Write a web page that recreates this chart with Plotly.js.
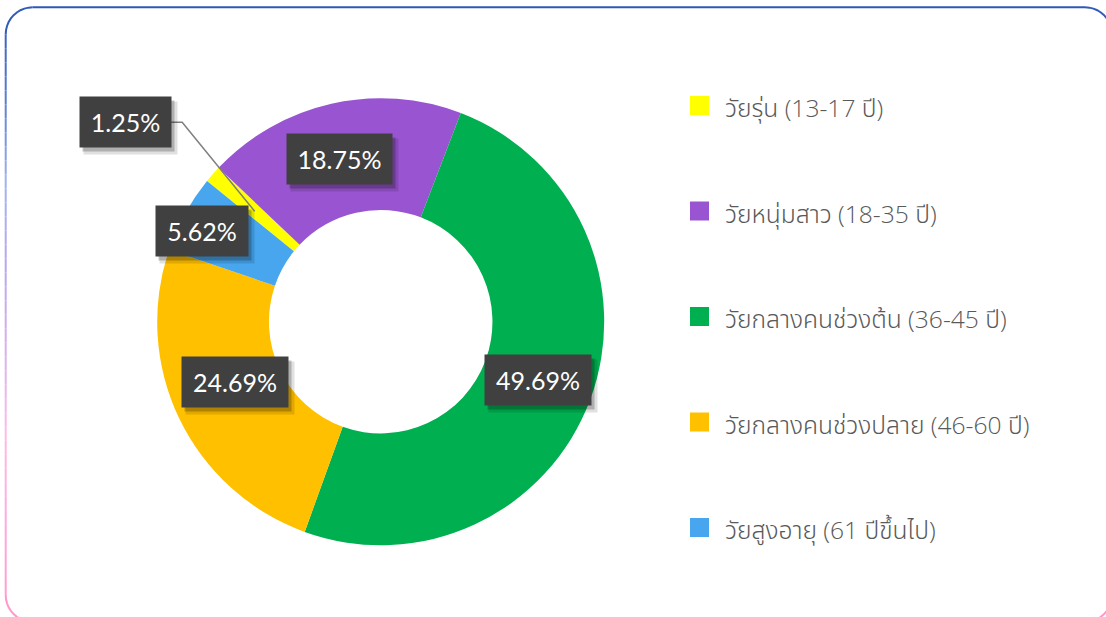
<!DOCTYPE html>
<html>
<head>
<meta charset="utf-8">
<script src="https://cdn.plot.ly/plotly-3.0.1.min.js"></script>
<style>
html,body{margin:0;padding:0;background:#fff;}
#chart{width:1106px;height:617px;}
</style>
</head>
<body>
<div id="chart"></div>
<script>
// ---- data ----
var categories = ['วัยรุ่น (13-17 ปี)', 'วัยหนุ่มสาว (18-35 ปี)', 'วัยกลางคนช่วงต้น (36-45 ปี)', 'วัยกลางคนช่วงปลาย (46-60 ปี)', 'วัยสูงอายุ (61 ปีขึ้นไป)'];
var percents = [1.25, 18.75, 49.69, 24.69, 5.62];
var percentLabels = ['1.25%', '18.75%', '49.69%', '24.69%', '5.62%'];

// ---- style ----
var colors = ['#FFFF00', '#9955D1', '#00AF50', '#FFC000', '#47A6EE'];
var W = 1106, H = 617;
var cx = 380.7, cy = 321.7, R = 223.5, holeFrac = 0.5;
var rotation = -51;
// label nudges (px) from the ring mid-point, and box widths
var labelNudge = [[-129, -89], [-4, 1], [0, 0], [5, -12], [-32, -10]];
var boxW = [71, 85, 86, 86, 72];
var boxH = 30, boxPad = 10;

function px(x){ return x / W; }
function py(y){ return 1 - y / H; }

var trace = {
  type: 'pie',
  values: percents,
  labels: categories,
  sort: false,
  direction: 'clockwise',
  rotation: rotation,
  hole: holeFrac,
  marker: {colors: colors, line: {width: 0}},
  textinfo: 'none',
  hoverinfo: 'label+percent',
  showlegend: false,
  domain: {x: [px(cx - R), px(cx + R)], y: [py(cy + R), py(cy - R)]}
};

var annotations = [];
var shapes = [];

// slice mid angles from the values
var total = percents.reduce(function(a, b){ return a + b; }, 0);
var cum = 0;
var rMid = R * (1 + holeFrac) / 2;
percents.forEach(function(v, i){
  var mid = rotation + (cum + v / 2) / total * 360;
  cum += v;
  var a = mid * Math.PI / 180;
  var mx = cx + rMid * Math.sin(a), my = cy - rMid * Math.cos(a);
  var lx = mx + labelNudge[i][0], ly = my + labelNudge[i][1];
  // leader line for labels moved away from their slice
  if (Math.abs(labelNudge[i][0]) > 60) {
    var ex = lx + boxW[i] / 2 + boxPad;
    shapes.push({type: 'path', xref: 'paper', yref: 'paper',
      path: 'M ' + px(ex) + ' ' + py(ly) + ' L ' + px(ex + 11) + ' ' + py(ly) + ' L ' + px(mx) + ' ' + py(my),
      line: {color: '#7f7f7f', width: 1.5}, layer: 'above'});
  }
  // shadow (two layers for a soft edge)
  annotations.push({xref: 'paper', yref: 'paper', x: px(lx + 5), y: py(ly + 6), xanchor: 'center', yanchor: 'middle',
    text: ' ', showarrow: false, width: boxW[i] + 2, height: boxH + 2, borderpad: boxPad,
    bgcolor: 'rgba(0,0,0,0.12)', font: {size: 22}});
  annotations.push({xref: 'paper', yref: 'paper', x: px(lx + 3), y: py(ly + 4), xanchor: 'center', yanchor: 'middle',
    text: ' ', showarrow: false, width: boxW[i], height: boxH, borderpad: boxPad,
    bgcolor: 'rgba(0,0,0,0.22)', font: {size: 22}});
  annotations.push({xref: 'paper', yref: 'paper', x: px(lx), y: py(ly), xanchor: 'center', yanchor: 'middle',
    text: percentLabels[i], showarrow: false, width: boxW[i], height: boxH, borderpad: boxPad,
    bgcolor: '#404040', font: {family: 'Lato, "Open Sans", sans-serif', size: 25, color: '#ffffff'}});
});

// manual legend
var legX = 690, legY0 = 105.5, legStep = 105.5, sq = 19;
categories.forEach(function(c, i){
  var yc = legY0 + i * legStep;
  shapes.push({type: 'rect', xref: 'paper', yref: 'paper',
    x0: px(legX), x1: px(legX + sq), y0: py(yc + sq / 2), y1: py(yc - sq / 2),
    fillcolor: colors[i], line: {width: 0}});
  annotations.push({xref: 'paper', yref: 'paper', x: px(legX + 33), y: py(yc + 2), xanchor: 'left', yanchor: 'middle',
    text: c, showarrow: false, font: {family: '"Open Sans", "Noto Sans Thai", sans-serif', size: 24.6, color: '#595959', weight: 300}});
});

// rounded border with vertical colour gradient
var bx0 = 5.7, by0 = 7.3, bx1 = 1112, by1 = 622, br = 27;
var stops = [[0, [47, 88, 180]], [100, [90, 127, 208]], [183, [160, 180, 240]], [267, [184, 168, 238]], [350, [216, 176, 238]], [433, [255, 187, 230]], [517, [255, 170, 221]], [622, [255, 153, 204]]];
function colAt(y){
  for (var k = 0; k < stops.length - 1; k++) {
    if (y <= stops[k + 1][0]) {
      var t = (y - stops[k][0]) / (stops[k + 1][0] - stops[k][0]);
      t = Math.max(0, Math.min(1, t));
      var c = stops[k][1].map(function(v, j){ return Math.round(v + t * (stops[k + 1][1][j] - v)); });
      return 'rgb(' + c.join(',') + ')';
    }
  }
  return 'rgb(255,153,204)';
}
function seg(path, color){
  shapes.push({type: 'path', xref: 'paper', yref: 'paper', path: path, line: {color: color, width: 2}, layer: 'above'});
}
function P(x, y){ return px(x) + ' ' + py(y); }
seg('M ' + P(bx0 + br, by0) + ' L ' + P(bx1 - br, by0), colAt(0));
function arc(cxx, cyy, a0, a1){
  var n = 10, pts = [];
  for (var k = 0; k <= n; k++) {
    var a = (a0 + (a1 - a0) * k / n) * Math.PI / 180;
    pts.push(P(cxx + br * Math.cos(a), cyy + br * Math.sin(a)));
  }
  return 'M ' + pts.join(' L ');
}
seg(arc(bx0 + br, by0 + br, 180, 270), colAt(10));
seg(arc(bx1 - br, by0 + br, 270, 360), colAt(10));
seg(arc(bx0 + br, by1 - br, 90, 180), colAt(620));
seg(arc(bx1 - br, by1 - br, 0, 90), colAt(620));
seg('M ' + P(bx0 + br, by1) + ' L ' + P(bx1 - br, by1), colAt(622));
var nSeg = 40, ys = by0 + br, ye = by1 - br;
for (var k = 0; k < nSeg; k++) {
  var ya = ys + (ye - ys) * k / nSeg, yb = ys + (ye - ys) * (k + 1) / nSeg;
  var c = colAt((ya + yb) / 2);
  seg('M ' + P(bx0, ya) + ' L ' + P(bx0, yb), c);
  seg('M ' + P(bx1, ya) + ' L ' + P(bx1, yb), c);
}

var layout = {
  width: W, height: H,
  margin: {l: 0, r: 0, t: 0, b: 0},
  paper_bgcolor: '#ffffff',
  showlegend: false,
  annotations: annotations,
  shapes: shapes
};

Plotly.newPlot('chart', [trace], layout, {displayModeBar: false});
</script>
</body>
</html>
